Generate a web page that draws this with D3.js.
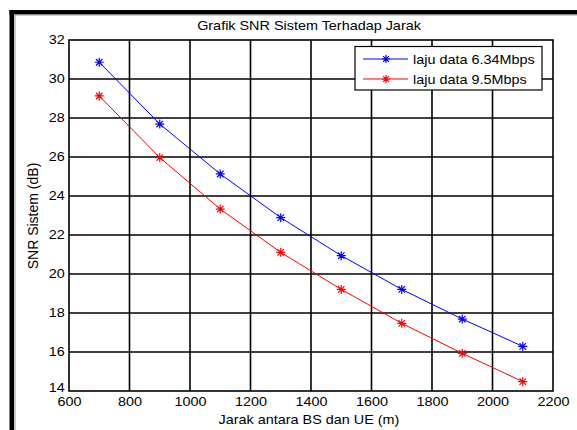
<!DOCTYPE html>
<html>
<head>
<meta charset="utf-8">
<script src="https://cdn.jsdelivr.net/npm/d3@7"></script>
<style>
  html, body { margin: 0; padding: 0; background: #fff; }
  svg { display: block; font-family: "Liberation Sans", Arial, sans-serif; }
</style>
</head>
<body>
<svg id="chart" width="577" height="430"></svg>
<script>
// Distance between BS and UE (m)
const distances = [700, 900, 1100, 1300, 1500, 1700, 1900, 2100];
// System SNR (dB) for each data rate
const snr634 = [30.86, 27.69, 25.13, 22.89, 20.94, 19.21, 17.69, 16.29];
const snr95  = [29.13, 25.97, 23.33, 21.11, 19.21, 17.47, 15.93, 14.48];
const seriesNames = ["laju data 6.34Mbps", "laju data 9.5Mbps"];
const seriesColors = ["#0000ff", "#ff0000"];
const xTicks = [600, 800, 1000, 1200, 1400, 1600, 1800, 2000, 2200];
const yTicks = [14, 16, 18, 20, 22, 24, 26, 28, 30, 32];

const svg = d3.select("#chart");
const plot = { left: 69, top: 40, right: 553, bottom: 391 };
const FS = 12;      // base font size
const SX = 1.2;     // horizontal text stretch

const x = d3.scaleLinear().domain([600, 2200]).range([plot.left, plot.right]);
const y = d3.scaleLinear().domain([14, 32]).range([plot.bottom, plot.top]);

// Horizontally stretched text label
function label(tx, ty, str, anchor) {
  return svg.append("text")
    .attr("transform", `translate(${tx},${ty}) scale(${SX},1)`)
    .attr("text-anchor", anchor || "start")
    .attr("font-size", FS).attr("fill", "#000").text(str);
}

// Figure frame (top and left edges)
svg.append("rect").attr("x", 9.5).attr("y", 10).attr("width", 567.5).attr("height", 4.5).attr("fill", "#000");
svg.append("rect").attr("x", 9.5).attr("y", 10).attr("width", 4.5).attr("height", 420).attr("fill", "#000");
svg.append("line").attr("x1", 14).attr("x2", 577).attr("y1", 15).attr("y2", 15).attr("stroke", "#999").attr("stroke-width", 1);
svg.append("line").attr("x1", 15).attr("x2", 15).attr("y1", 15).attr("y2", 430).attr("stroke", "#999").attr("stroke-width", 1);

// Grid
const grid = svg.append("g").attr("stroke", "#000").attr("stroke-width", 1.6);
grid.selectAll("line.gx").data(xTicks.slice(1, -1)).join("line")
  .attr("x1", d => x(d)).attr("x2", d => x(d))
  .attr("y1", plot.top).attr("y2", plot.bottom);
grid.selectAll("line.gy").data(yTicks.slice(1, -1)).join("line")
  .attr("y1", d => y(d)).attr("y2", d => y(d))
  .attr("x1", plot.left).attr("x2", plot.right);

// Axes box
svg.append("rect")
  .attr("x", plot.left).attr("y", plot.top)
  .attr("width", plot.right - plot.left).attr("height", plot.bottom - plot.top)
  .attr("fill", "none").attr("stroke", "#000").attr("stroke-width", 1.6);

// Tick labels via d3 axes
const xAxis = d3.axisBottom(x).tickValues(xTicks).tickSize(0).tickPadding(6).tickFormat(d3.format("d"));
const gx = svg.append("g").attr("transform", `translate(0,${plot.bottom})`).call(xAxis);
gx.select(".domain").remove();
gx.selectAll("text").attr("font-size", FS).attr("font-family", "Liberation Sans, Arial, sans-serif")
  .attr("fill", "#000").attr("transform", `scale(${SX},1)`);

const yAxis = d3.axisLeft(y).tickValues(yTicks).tickSize(0).tickPadding(3.5).tickFormat(d3.format("d"));
const gy = svg.append("g").attr("transform", `translate(${plot.left},0)`).call(yAxis);
gy.select(".domain").remove();
gy.selectAll("text").attr("font-size", FS).attr("font-family", "Liberation Sans, Arial, sans-serif")
  .attr("fill", "#000").attr("transform", `scale(${SX},1)`)
  .attr("dy", d => d === yTicks[0] ? "0.05em" : "0.32em");

// Asterisk marker path
function star(cx, cy, r) {
  const d = r * 0.72;
  return `M${cx - r},${cy}L${cx + r},${cy}M${cx},${cy - r}L${cx},${cy + r}` +
         `M${cx - d},${cy - d}L${cx + d},${cy + d}M${cx - d},${cy + d}L${cx + d},${cy - d}`;
}

const series = [snr634, snr95];
const line = d3.line().x((d, i) => x(distances[i])).y(d => y(d));
series.forEach((vals, k) => {
  const g = svg.append("g");
  g.append("path").attr("d", line(vals)).attr("fill", "none")
    .attr("stroke", seriesColors[k]).attr("stroke-width", 1);
  g.selectAll("path.m").data(vals).join("path").attr("class", "m")
    .attr("d", (d, i) => star(x(distances[i]), y(d), 4.5))
    .attr("stroke", seriesColors[k]).attr("stroke-width", 1.2).attr("fill", "none");
});

// Legend
svg.append("rect").attr("x", 355).attr("y", 46.5).attr("width", 187).attr("height", 43.5)
  .attr("fill", "#fff").attr("stroke", "#000").attr("stroke-width", 1.2);
seriesNames.forEach((name, k) => {
  const yy = 59 + k * 20;
  svg.append("line").attr("x1", 363).attr("x2", 408).attr("y1", yy).attr("y2", yy)
    .attr("stroke", seriesColors[k]).attr("stroke-width", 1);
  svg.append("path").attr("d", star(386, yy, 4)).attr("stroke", seriesColors[k])
    .attr("stroke-width", 1.2).attr("fill", "none");
  label(413, yy + 4.5, name);
});

// Title and axis labels
label(309, 29.5, "Grafik SNR Sistem Terhadap Jarak", "middle");
label(309, 423.5, "Jarak antara BS dan UE (m)", "middle");
svg.append("text").attr("transform", "translate(38,216) rotate(-90)").attr("text-anchor", "middle")
  .attr("font-size", 14).attr("fill", "#000").text("SNR Sistem (dB)");
</script>
</body>
</html>
